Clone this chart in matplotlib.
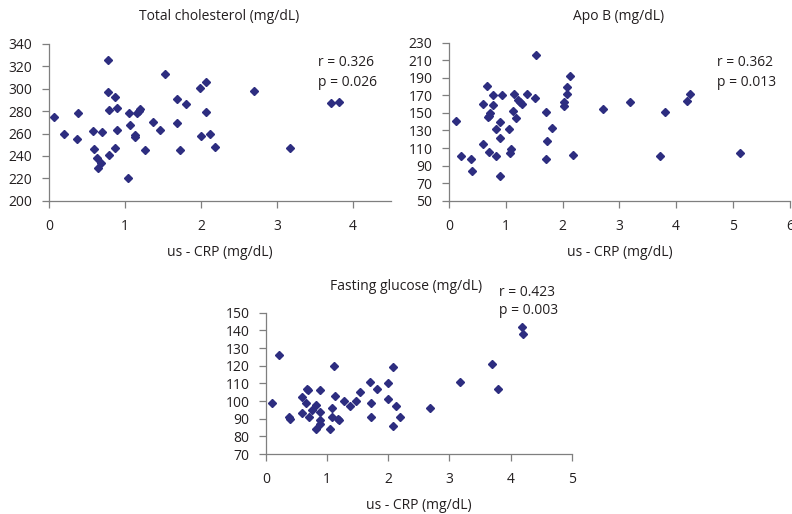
import matplotlib
matplotlib.use("Agg")
import matplotlib.pyplot as plt

plt.rcParams['font.family'] = ['Open Sans', 'DejaVu Sans']

# ---- Data ----
tc_crp = [0.07, 0.20, 0.38, 0.37, 0.58, 0.59, 0.63, 0.65, 0.69, 0.70, 0.77, 0.77,
          0.79, 0.79, 0.87, 0.89, 0.89, 0.87, 1.04, 1.05, 1.07, 1.13, 1.13, 1.16,
          1.18, 1.20, 1.26, 1.37, 1.46, 1.52, 1.69, 1.69, 1.72, 1.80, 1.99, 2.07,
          2.07, 2.00, 2.12, 2.18, 2.70, 3.17, 3.71, 3.82]
tc_val = [275, 260, 278, 255, 262, 246, 238, 229, 234, 261, 326, 297,
          281, 241, 293, 283, 263, 247, 220, 278, 268, 259, 257, 278,
          280, 282, 245, 270, 263, 313, 291, 269, 245, 286, 301, 306,
          279, 258, 260, 248, 298, 247, 287, 288]

apob_crp = [0.12, 0.22, 0.39, 0.41, 0.60, 0.60, 0.67, 0.68, 0.71, 0.73, 0.70, 0.78,
            0.78, 0.82, 0.82, 0.90, 0.90, 0.93, 0.90, 1.05, 1.08, 1.09, 1.13, 1.15,
            1.18, 1.21, 1.25, 1.29, 1.37, 1.51, 1.54, 1.70, 1.73, 1.71, 1.82, 2.02,
            2.02, 2.07, 2.08, 2.13, 2.19, 2.71, 3.18, 3.71, 3.81, 4.19, 4.25, 5.12]
apob_val = [141, 101, 97, 84, 160, 115, 181, 145, 105, 150, 147, 170,
            159, 132, 101, 140, 122, 170, 78, 132, 104, 109, 152, 172,
            144, 165, 163, 160, 171, 167, 216, 151, 118, 97, 133, 162,
            158, 171, 180, 192, 102, 154, 162, 101, 151, 164, 171, 104]

glu_crp = [0.10, 0.22, 0.37, 0.40, 0.59, 0.59, 0.67, 0.68, 0.65, 0.70, 0.76, 0.81,
           0.81, 0.89, 0.89, 0.88, 0.88, 1.05, 1.08, 1.08, 1.12, 1.13, 1.17, 1.20,
           1.28, 1.38, 1.48, 1.53, 1.70, 1.71, 1.72, 1.81, 2.00, 2.00, 2.07, 2.07,
           2.13, 2.19, 2.69, 3.17, 3.70, 3.80, 4.18, 4.21]
glu_val = [99, 126, 91, 90, 102, 93, 107, 106, 99, 91, 95, 98,
           84, 106, 94, 89, 87, 84, 96, 91, 120, 103, 90, 89,
           100, 97, 100, 105, 111, 99, 91, 107, 110, 101, 119, 86,
           97, 91, 96, 111, 121, 107, 142, 138]

titles = ["Total cholesterol (mg/dL)", "Apo B (mg/dL)", "Fasting glucose (mg/dL)"]
stats = [("r = 0.326", "p = 0.026"), ("r = 0.362", "p = 0.013"), ("r = 0.423", "p = 0.003")]
xlabel = "us - CRP (mg/dL)"

W, H = 792, 514
fig = plt.figure(figsize=(W / 100, H / 100), dpi=100)

MARKER_C = '#2D2D80'
SPINE_C = '#7F7F7F'
TEXT_C = '#231F20'
FS = 10


def px_axes(left, top, right, bottom):
    return fig.add_axes([left / W, 1 - bottom / H, (right - left) / W, (bottom - top) / H])


def style(ax, xlim, xticks, ylim, yticks):
    ax.set_xlim(*xlim)
    ax.set_ylim(*ylim)
    ax.set_xticks(xticks)
    ax.set_yticks(yticks)
    for s in ['top', 'right']:
        ax.spines[s].set_visible(False)
    for s in ['left', 'bottom']:
        ax.spines[s].set_color(SPINE_C)
        ax.spines[s].set_linewidth(0.9)
    ax.tick_params(direction='out', length=5, width=0.9, color=SPINE_C,
                   labelsize=FS, labelcolor=TEXT_C)
    ax.tick_params(axis='x', pad=8)
    ax.tick_params(axis='y', pad=7)
    ax.patch.set_alpha(0)


# Panel 1
ax1 = px_axes(49, 44, 391, 200.7)
ax1.plot(tc_crp, tc_val, 'D', color=MARKER_C, markersize=4.5, clip_on=False)
style(ax1, (0, 4.5), [0, 1, 2, 3, 4], (200, 340), range(200, 341, 20))
ax1.set_xlabel(xlabel, fontsize=FS, color=TEXT_C, labelpad=8)

# Panel 2
ax2 = px_axes(449, 42.7, 789.7, 200.7)
ax2.plot(apob_crp, apob_val, 'D', color=MARKER_C, markersize=4.5, clip_on=False)
style(ax2, (0, 6), range(0, 7), (50, 230), range(50, 231, 20))
ax2.set_xlabel(xlabel, fontsize=FS, color=TEXT_C, labelpad=8)

# Panel 3
ax3 = px_axes(266, 312.7, 571.7, 454)
ax3.plot(glu_crp, glu_val, 'D', color=MARKER_C, markersize=4.5, clip_on=False)
style(ax3, (0, 5), range(0, 6), (70, 150), range(70, 151, 10))
ax3.set_xlabel(xlabel, fontsize=FS, color=TEXT_C, labelpad=8)


def ftext(x, y, s, ha='center'):
    fig.text(x / W, 1 - y / H, s, ha=ha, va='center', fontsize=FS, color=TEXT_C)


ftext(219, 17, titles[0])
ftext(619, 17, titles[1])
ftext(406, 286, titles[2])

ftext(318, 63, stats[0][0], ha='left')
ftext(318, 83, stats[0][1], ha='left')
ftext(717, 62, stats[1][0], ha='left')
ftext(717, 82, stats[1][1], ha='left')
ftext(499, 292, stats[2][0], ha='left')
ftext(499, 311, stats[2][1], ha='left')

fig.savefig('out.png', dpi=100)
